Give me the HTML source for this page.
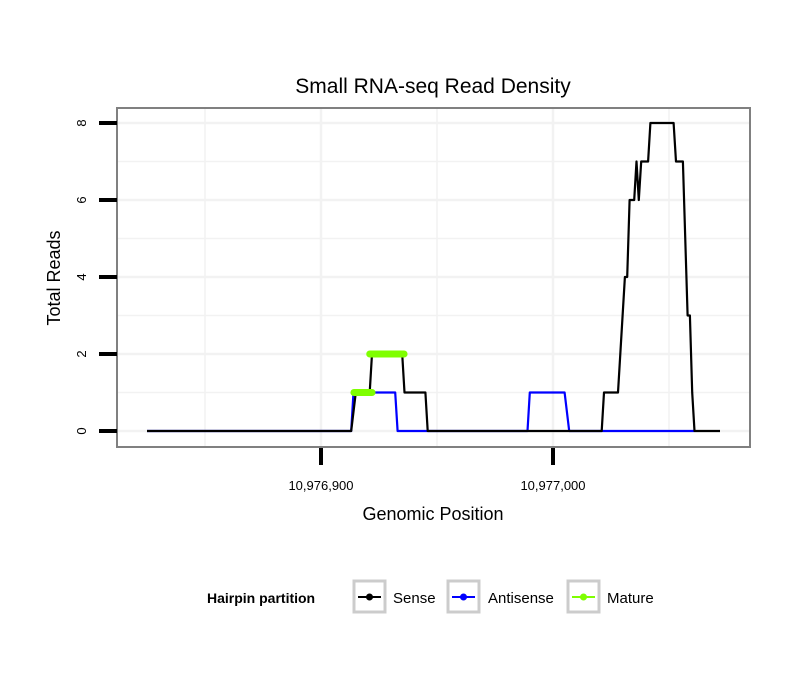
<!DOCTYPE html>
<html><head><meta charset="utf-8"><style>
body{margin:0;background:#fff;font-family:"Liberation Sans",sans-serif}
</style></head><body>
<svg id="chart" width="810" height="690" xmlns="http://www.w3.org/2000/svg" font-family="Liberation Sans, sans-serif">
<rect width="810" height="690" fill="#fff"/>
<text x="433" y="93" font-size="21" text-anchor="middle">Small RNA-seq Read Density</text>
<g id="grid"></g>
<g id="series"></g>
<rect x="117" y="108" width="633" height="339" fill="none" stroke="#808080" stroke-width="2"/>
<g id="axes"></g>
<text x="433" y="520" font-size="18" text-anchor="middle">Genomic Position</text>
<text transform="translate(60,278) rotate(-90)" font-size="18" text-anchor="middle">Total Reads</text>
<g>
<text x="207" y="603" font-size="14" font-weight="bold">Hairpin partition</text>
<g>
<rect x="354" y="581" width="31" height="31" fill="#fff" stroke="#ccc" stroke-width="3"/>
<line x1="358" y1="597" x2="381" y2="597" stroke="#000" stroke-width="2"/><circle cx="369.5" cy="597" r="3.5" fill="#000"/>
<text x="393" y="603" font-size="15">Sense</text></g>
<g>
<rect x="448" y="581" width="31" height="31" fill="#fff" stroke="#ccc" stroke-width="3"/>
<line x1="452" y1="597" x2="475" y2="597" stroke="#00f" stroke-width="2"/><circle cx="463.5" cy="597" r="3.5" fill="#00f"/>
<text x="488" y="603" font-size="15">Antisense</text></g>
<g>
<rect x="568" y="581" width="31" height="31" fill="#fff" stroke="#ccc" stroke-width="3"/>
<line x1="572" y1="597" x2="595" y2="597" stroke="#7fff00" stroke-width="2"/><circle cx="583.5" cy="597" r="3.5" fill="#7fff00"/>
<text x="607" y="603" font-size="15">Mature</text></g>
</g>
</svg>
<script>
const BASE = 10976900;
const xTicks = [10976900, 10977000];
const xTickLabels = ["10,976,900", "10,977,000"];
const yTicks = [0, 2, 4, 6, 8];
const senseOffset = [-75,13,15,21,22,35,36,45,46,121,122,128,129,131,132,133,135,136,137,138,141,142,152,153,156,158,159,160,161,172];
const senseReads  = [0,0,1,1,2,2,1,1,0,0,1,1,2,4,4,6,6,7,6,7,7,8,8,7,7,3,3,1,0,0];
const antiOffset = [-75,13,14,32,33,89,90,105,107,161];
const antiReads  = [0,0,1,1,0,0,1,1,0,0];
const matureStart = [14.2, 21];
const matureEnd   = [22, 35.8];
const matureReads = [1, 2];

const X = bp => 321 + (bp - BASE) * 2.32;
const Y = v => 431 - v * 38.5;
const NS = "http://www.w3.org/2000/svg";
function mk(tag, attrs, parent){const e=document.createElementNS(NS,tag);for(const k in attrs)e.setAttribute(k,attrs[k]);parent.appendChild(e);return e;}

const grid = document.getElementById('grid');
for (let v = 0; v <= 8; v++) {
  const l = mk('line', {x1:118,x2:749,y1:Y(v),y2:Y(v),stroke:'#f2f2f2','stroke-width':v%2?1.5:2.5}, grid);
  
  
}
for (let bp = BASE - 50; bp <= BASE + 150; bp += 50) {
  const l = mk('line', {x1:X(bp),x2:X(bp),y1:109,y2:446,stroke:'#f2f2f2','stroke-width':(bp-BASE)%100?1.5:2.5}, grid);
  
  
}

const ser = document.getElementById('series');
function line(off, vals, color, name){
  const pts = off.map((o,i)=>X(BASE+o).toFixed(1)+','+Y(vals[i]).toFixed(1)).join(' ');
  const p = mk('polyline', {points:pts, fill:'none', stroke:color, 'stroke-width':2.2, 'stroke-linejoin':'round'}, ser);
  
  
}
line(antiOffset, antiReads, '#00f', 'antisense-line');
line(senseOffset, senseReads, '#000', 'sense-line');
matureStart.forEach((s,i)=>{
  const l = mk('line', {x1:X(BASE+s),x2:X(BASE+matureEnd[i]),y1:Y(matureReads[i]),y2:Y(matureReads[i]),stroke:'#7fff00','stroke-width':7,'stroke-linecap':'round'}, ser);
  
  
});

const ax = document.getElementById('axes');
yTicks.forEach(v=>{
  const t = mk('line', {x1:99,x2:117,y1:Y(v),y2:Y(v),stroke:'#000','stroke-width':4}, ax);
  
  
  const tx = mk('text', {transform:`translate(${86},${Y(v)}) rotate(-90)`,'font-size':13,'text-anchor':'middle'}, ax);
  tx.textContent = v;
  
  
});
xTicks.forEach((bp,i)=>{
  const t = mk('line', {x1:X(bp),x2:X(bp),y1:448,y2:465,stroke:'#000','stroke-width':4}, ax);
  
  
  const tx = mk('text', {x:X(bp),y:490,'font-size':13,'text-anchor':'middle'}, ax);
  tx.textContent = xTickLabels[i];
  
  
});
</script>
</body></html>
